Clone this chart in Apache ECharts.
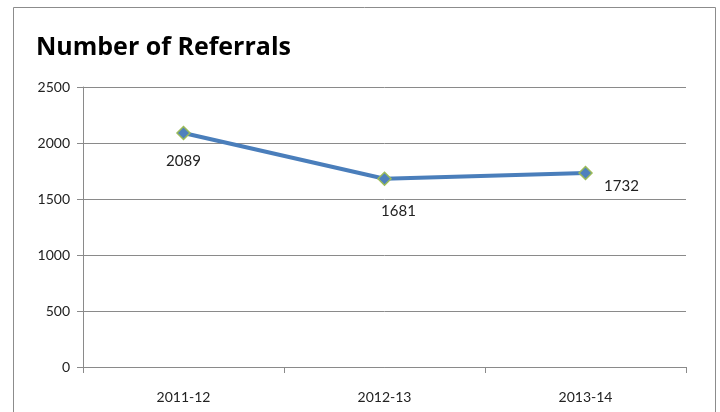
<!DOCTYPE html>
<html><head><meta charset="utf-8">
<script src="https://cdn.jsdelivr.net/npm/echarts@6/dist/echarts.min.js"></script>
<style>html,body{margin:0;padding:0;background:#fff}#c{width:720px;height:412px}</style>
</head><body><div id="c"></div>
<script>
const categories = ['2011-12', '2012-13', '2013-14'];
const referrals = [2089, 1681, 1732];
const yTicks = [0, 500, 1000, 1500, 2000, 2500];
const title = 'Number of Referrals';
const labelOffsets = [[0, 28], [14, 32], [36, 13]];

const chart = echarts.init(document.getElementById('c'), null, {renderer: 'canvas'});
const font = 'Lato, "Open Sans", sans-serif';
chart.setOption({
  animation: false,
  backgroundColor: '#fff',
  title: {
    text: title, left: 31, top: 30,
    textStyle: {fontFamily: '"Open Sans", sans-serif', fontWeight: 'bold', fontSize: 25, color: '#000'}
  },
  graphic: [{
    type: 'rect', shape: {x: 13.5, y: 7.5, width: 702, height: 420},
    style: {fill: 'none', stroke: '#8c8c8c', lineWidth: 1}, silent: true
  }],
  grid: {left: 83, right: 34, top: 87, bottom: 45, containLabel: false},
  xAxis: {
    type: 'category', data: categories, boundaryGap: true,
    axisLine: {lineStyle: {color: '#8a8a8a'}},
    axisTick: {show: true, length: 6, lineStyle: {color: '#8a8a8a'}},
    axisLabel: {fontFamily: font, fontSize: 14, color: '#222', margin: 23}
  },
  yAxis: {
    type: 'value', min: yTicks[0], max: yTicks[yTicks.length - 1], interval: 500,
    axisLine: {show: true, lineStyle: {color: '#8a8a8a'}},
    axisTick: {show: true, length: 6, lineStyle: {color: '#8a8a8a'}},
    splitLine: {lineStyle: {color: '#8a8a8a'}},
    axisLabel: {fontFamily: font, fontSize: 14, color: '#222', margin: 13, formatter: v => String(v)}
  },
  series: [{
    type: 'line', data: referrals.map((v, i) => ({
      value: v,
      label: {offset: labelOffsets[i]}
    })),
    symbol: 'diamond', symbolSize: 13,
    lineStyle: {color: '#4a7ebb', width: 4},
    itemStyle: {color: '#4f81bd', borderColor: '#9bbb59', borderWidth: 1.5},
    label: {
      show: true, position: 'inside', align: 'center', verticalAlign: 'middle',
      fontFamily: font, fontSize: 15, color: '#222'
    }
  }]
});
</script></body></html>
